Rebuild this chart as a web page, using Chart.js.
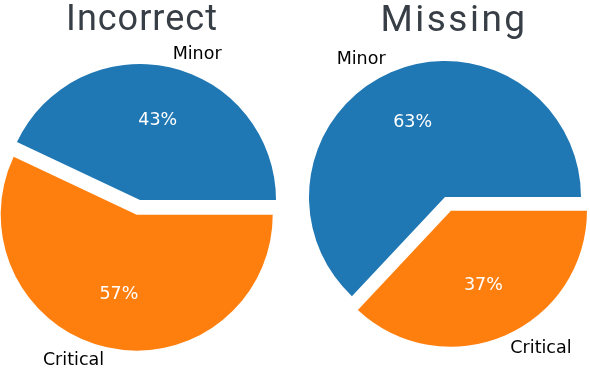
<!DOCTYPE html>
<html>
<head>
<meta charset="utf-8">
<script src="https://cdn.jsdelivr.net/npm/chart.js@4.4.0/dist/chart.umd.min.js"></script>
<style>
  html, body { margin: 0; padding: 0; background: #fff; overflow: hidden; }
  #wrap { position: relative; width: 590px; height: 368px; }
  canvas { position: absolute; top: 0; }
</style>
</head>
<body>
<div id="wrap">
  <canvas id="incorrectChart" width="295" height="368" style="left:0"></canvas>
  <canvas id="missingChart" width="295" height="368" style="left:295px"></canvas>
</div>
<script>
// chart data
var categories = ['Minor', 'Critical'];
var incorrectValues = [43, 57];
var missingValues = [63, 37];
var titles = ['Incorrect', 'Missing'];
var explodedCategory = 'Critical';

var colors = { Minor: '#1f77b4', Critical: '#ff7f0e' };

// matplotlib draws counter-clockwise from 3 o'clock, chart.js clockwise,
// so the slices go in reversed order starting at 90deg
function reversed(arr) { return arr.slice().reverse(); }

// moves the exploded slice out and writes labels like matplotlib does
var piePlugin = {
    id: 'piePlugin',
    afterDatasetUpdate: function (chart, args) {
        var meta = args.meta;
        var labels = chart.data.labels;
        meta.data.forEach(function (arc, i) {
            if (labels[i] === explodedCategory) {
                var mid = (arc.startAngle + arc.endAngle) / 2;
                var dist = chart.options.plugins.piePlugin.explode;
                arc.x += Math.cos(mid) * dist;
                arc.y += Math.sin(mid) * dist;
            }
        });
    },
    afterDatasetsDraw: function (chart) {
        var ctx = chart.ctx;
        var opts = chart.options.plugins.piePlugin;
        var meta = chart.getDatasetMeta(0);
        var values = chart.data.datasets[0].data;
        var total = values.reduce(function (a, b) { return a + b; }, 0);
        ctx.save();
        ctx.font = '17.5px "DejaVu Sans"';
        ctx.textBaseline = 'middle';
        meta.data.forEach(function (arc, i) {
            var mid = (arc.startAngle + arc.endAngle) / 2;
            var dx = Math.cos(mid), dy = Math.sin(mid);
            var r = arc.outerRadius;
            // category label
            ctx.fillStyle = '#000';
            ctx.textAlign = dx > 0 ? 'left' : 'right';
            ctx.fillText(chart.data.labels[i], arc.x + dx * r * 1.1, arc.y + dy * r * 1.1);
            // percent
            ctx.fillStyle = '#fff';
            ctx.textAlign = 'center';
            var pct = Math.round(values[i] / total * 100) + '%';
            ctx.fillText(pct, arc.x + dx * r * 0.6, arc.y + dy * r * 0.6);
        });
        // title
        ctx.fillStyle = '#383e46';
        ctx.font = opts.titleSize + 'px Roboto';
        ctx.letterSpacing = opts.titleSpacing + 'px';
        ctx.textAlign = 'center';
        ctx.textBaseline = 'alphabetic';
        ctx.fillText(opts.title, opts.titleX, opts.titleY);
        ctx.restore();
    }
};

function makePie(canvasId, values, title, padding, titleOpts) {
    var ctx = document.getElementById(canvasId).getContext('2d');
    return new Chart(ctx, {
        type: 'pie',
        data: {
            labels: reversed(categories),
            datasets: [{
                data: reversed(values),
                backgroundColor: reversed(categories).map(function (c) { return colors[c]; }),
                borderWidth: 0,
                radius: 136
            }]
        },
        options: {
            responsive: false,
            animation: false,
            rotation: 90,
            layout: { padding: padding },
            plugins: {
                legend: { display: false },
                tooltip: { enabled: false },
                piePlugin: Object.assign({ explode: 15, title: title }, titleOpts)
            }
        },
        plugins: [piePlugin]
    });
}

makePie('incorrectChart', incorrectValues, titles[0], { left: 0, right: 15, top: 32, bottom: 0 },
    { titleX: 142, titleY: 29.5, titleSize: 36, titleSpacing: 1 });
makePie('missingChart', missingValues, titles[1], { left: 5, right: 0, top: 26, bottom: 0 },
    { titleX: 159, titleY: 31, titleSize: 37, titleSpacing: 2.5 });
</script>
</body>
</html>
